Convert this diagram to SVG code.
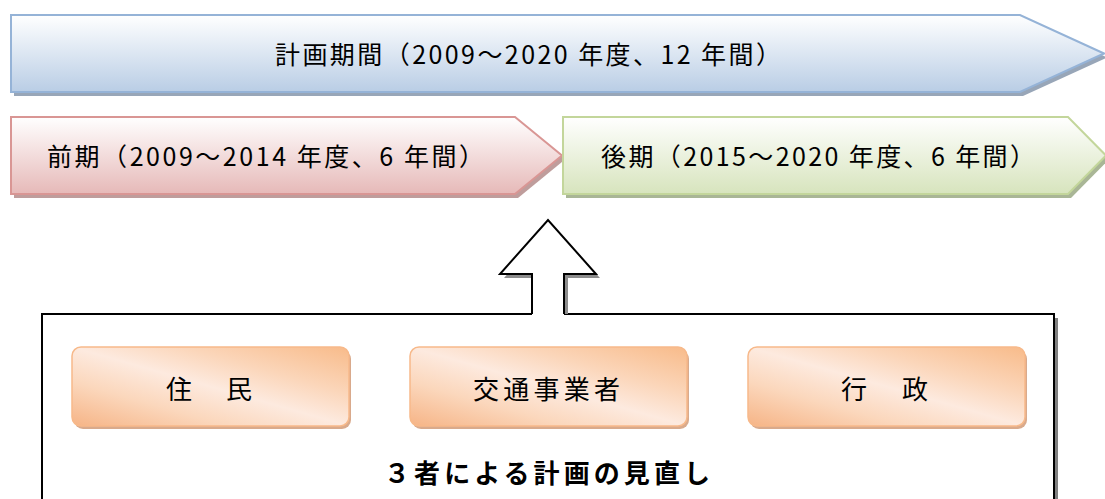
<svg xmlns="http://www.w3.org/2000/svg" width="1105" height="499" viewBox="0 0 1105 499">
  <style>
    .lbl { font-family: "Noto Sans CJK JP", "Noto Sans", sans-serif; font-size: 25px; fill: #000; dominant-baseline: central; }
    .box-lbl { font-family: "Noto Sans CJK JP", "Noto Sans", sans-serif; font-size: 26px; fill: #000; dominant-baseline: central; text-anchor: middle; }
    .title { font-family: "Noto Sans CJK JP", "Noto Sans", sans-serif; font-size: 26px; font-weight: bold; fill: #000; dominant-baseline: central; }
    .actor { fill: url(#gOrange); stroke: #f7b98a; stroke-width: 1.5; }
    .actor-shadow { fill: #d9aa8c; }
    .line { fill: none; stroke: #000; stroke-width: 2; }
  </style>
  <defs>
    <linearGradient id="gBlue" x1="0" y1="0" x2="0" y2="1">
      <stop offset="0" stop-color="#ffffff"/>
      <stop offset="1" stop-color="#b9cde5"/>
    </linearGradient>
    <linearGradient id="gPink" x1="0" y1="0" x2="0" y2="1">
      <stop offset="0" stop-color="#ffffff"/>
      <stop offset="1" stop-color="#e6b9b8"/>
    </linearGradient>
    <linearGradient id="gGreen" x1="0" y1="0" x2="0" y2="1">
      <stop offset="0" stop-color="#ffffff"/>
      <stop offset="1" stop-color="#d7e4bd"/>
    </linearGradient>
    <linearGradient id="gOrange" x1="1" y1="0" x2="0" y2="1">
      <stop offset="0" stop-color="#f8bb8a"/>
      <stop offset="0.3" stop-color="#fbd6ba"/>
      <stop offset="0.5" stop-color="#fdeadf"/>
      <stop offset="0.72" stop-color="#fbd7bc"/>
      <stop offset="1" stop-color="#f6b486"/>
    </linearGradient>
  </defs>

  <!-- Plan period (whole) -->
  <g id="plan-period">
    <polygon points="14,19 1023,19 1107,57.5 1023,96 14,96" fill="#98a6b8"/>
    <polygon points="11,15 1020,15 1104,53.5 1020,92 11,92" fill="url(#gBlue)" stroke="#95b3d7" stroke-width="2"/>
    <text class="lbl" x="275" y="53" textLength="506" lengthAdjust="spacing">計画期間（2009～2020 年度、12 年間）</text>
  </g>

  <!-- First half -->
  <g id="first-half">
    <polygon points="14,121 518,121 565,159.5 518,198 14,198" fill="#bf9d9c"/>
    <polygon points="11,117 515,117 562,155.5 515,194 11,194" fill="url(#gPink)" stroke="#d99694" stroke-width="2"/>
    <text class="lbl" x="47" y="155" textLength="437" lengthAdjust="spacing">前期（2009～2014 年度、6 年間）</text>
  </g>

  <!-- Second half -->
  <g id="second-half">
    <polygon points="566,121 1071,121 1109,159.5 1071,198 566,198" fill="#a9b696"/>
    <polygon points="563,117 1068,117 1106,155.5 1068,194 563,194" fill="url(#gGreen)" stroke="#c3d69b" stroke-width="2"/>
    <text class="lbl" x="601" y="155" textLength="434" lengthAdjust="spacing">後期（2015～2020 年度、6 年間）</text>
  </g>

  <!-- Review box -->
  <g id="review-box">
    <rect x="46" y="318" width="1012" height="200" fill="#808080"/>
    <rect x="42" y="314" width="1012" height="200" fill="#ffffff"/>
    <path class="line" d="M532,314 H42 V510 M564,314 H1054 V510"/>
    <text class="title" x="384" y="471" textLength="326" lengthAdjust="spacing">３者による計画の見直し</text>
  </g>

  <g id="residents">
    <rect class="actor-shadow" x="74" y="350" width="277" height="79" rx="9"/>
    <rect class="actor" x="72" y="347" width="277" height="79" rx="9"/>
    <text class="box-lbl" x="209" y="387" textLength="86" lengthAdjust="spacing">住　民</text>
  </g>

  <g id="operators">
    <rect class="actor-shadow" x="412" y="350" width="277" height="79" rx="9"/>
    <rect class="actor" x="410" y="347" width="277" height="79" rx="9"/>
    <text class="box-lbl" x="546.5" y="387" textLength="147" lengthAdjust="spacing">交通事業者</text>
  </g>

  <g id="government">
    <rect class="actor-shadow" x="750" y="350" width="277" height="79" rx="9"/>
    <rect class="actor" x="748" y="347" width="277" height="79" rx="9"/>
    <text class="box-lbl" x="884.5" y="387" textLength="87" lengthAdjust="spacing">行　政</text>
  </g>

  <!-- Connectors -->
  <g id="connectors">
    <polygon points="536,314 536,278 504,278 552,224 600,278 568,278 568,314" fill="#8c8c8c"/>
    <polygon points="532,315 532,274 500,274 548,220 596,274 564,274 564,315" fill="#ffffff"/>
    <path class="line" d="M532,314 V274 H500 L548,220 L596,274 H564 V314"/>
  </g>
</svg>
